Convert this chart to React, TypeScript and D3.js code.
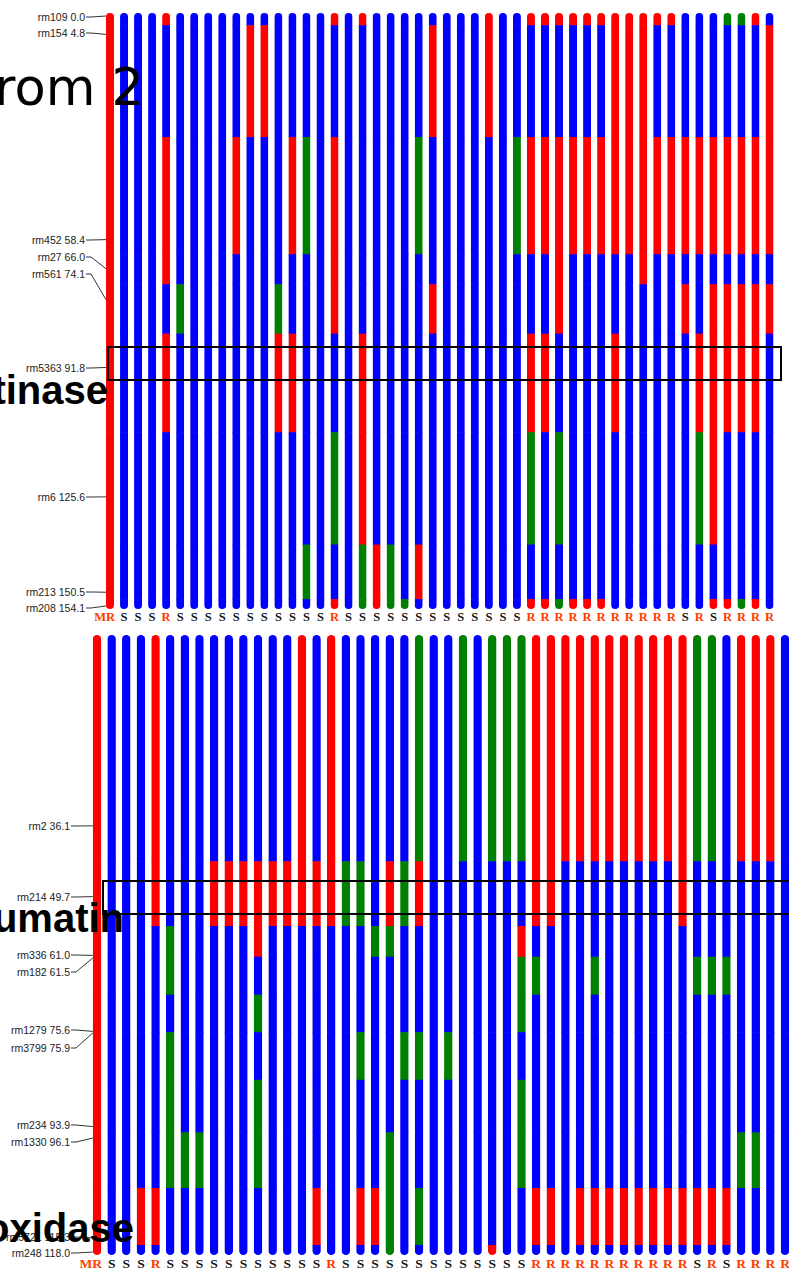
import React from 'react';
import * as d3 from 'd3';

// phenotype of each line (same order in both panels)
const phenotypes = [
  'MR', 'S', 'S', 'S', 'R', 'S', 'S', 'S', 'S', 'S', 'S', 'S', 'S', 'S', 'S', 'S',
  'R', 'S', 'S', 'S', 'S', 'S', 'S', 'S', 'S', 'S', 'S', 'S', 'S', 'S', 'R', 'R',
  'R', 'R', 'R', 'R', 'R', 'R', 'R', 'R', 'R', 'S', 'R', 'S', 'R', 'R', 'R', 'R',
];

// upper panel (chrom 2): markers, cM positions, genotypes per line
// R = resistant parent (red), B = susceptible parent (blue), H = heterozygous (green)
const topMarkers = ['rm109', 'rm154', 'rm452', 'rm27', 'rm561', 'rm5363', 'rm6', 'rm213', 'rm208'];
const topPos = [0.0, 4.8, 58.4, 66.0, 74.1, 91.8, 125.6, 150.5, 154.1];
const topGeno = [
  'RRRRRRRRR', 'BBBBBBBBB', 'BBBBBBBBB', 'BBBBBBBBB', 'RBRRBRBBB', 'BBBBHBBBB',
  'BBBBBBBBB', 'BBBBBBBBB', 'BBBBBBBBB', 'BBRBBBBBB', 'BRBBBBBBB', 'BRBBBBBBB',
  'BBBBHRBBB', 'BBRBBRBBB', 'BBHBBBBHB', 'BBBBBBBBB', 'RBRRRBHBR', 'BBBBBBBBB',
  'RBBBBRRHH', 'BBBBBBBRR', 'BBBBBBBHH', 'BBBBBBBBH', 'BBHBBBBRB', 'BRBBRBBBB',
  'BBBBBBBBB', 'BBBBBBBBB', 'BBBBBBBBB', 'RRBBBBBBB', 'BBBBBBBBB', 'BBHBBBBBB',
  'RBRBBRHBR', 'RBRBBRBBR', 'RBRRRBHBH', 'RBRBBBBBR', 'RBRBBBBBR', 'RBRBBBBBR',
  'RRRBBRBBB', 'RRRBBBBBB', 'RRRRBBBBB', 'RBRBBBBBB', 'RBRBBBBBB', 'BBRBRBBBB',
  'BBRBBRHBB', 'BBRBRRRBR', 'HBRBRRBBR', 'HBRBRRBBH', 'RBRBRRBBR', 'BRRBRBBBB',
];

// lower panel
const botMarkers = ['rm2', 'rm214', 'rm336', 'rm182', 'rm1279', 'rm3799', 'rm234', 'rm1330', 'rm5721', 'rm248'];
const botPos = [36.1, 49.7, 61.0, 61.5, 75.6, 75.9, 93.9, 96.1, 115.3, 118.0];
const botGeno = [
  'RRRRRRRRRR', 'BBBBBBBBBB', 'BBBBBBBBBB', 'BBBBBBBBRB', 'RRBBBBBBRB', 'BBHHBHHHBB',
  'BBBBBBBHBB', 'BBBBBBBHBB', 'BRBBBBBBBB', 'BRBBBBBBBB', 'BRBBBBBBBB', 'BRRBHBHHBB',
  'BRBBBBBBBB', 'BRBBBBBBBB', 'RRBBBBBBBB', 'BRBBBBBBRB', 'RRBBBBBBBB', 'BHBBBBBBBB',
  'BHBBBHBBRB', 'BBHBBBBBRB', 'BRHBBBBHHH', 'BHBBBHBBBB', 'HRBBBHBBHB', 'BBBBBBBBBB',
  'BBBBBHBBBB', 'HBBBBBBBBB', 'BBBBBBBBBB', 'HBBBBBBBBR', 'HBBBBBBBBB', 'HBRHHBHHBB',
  'RRBHBBBBRB', 'RRBBBBBBRB', 'RBBBBBBBBB', 'RBBBBBBBRB', 'RBBHBBBBRB', 'RBBBBBBBRB',
  'RBBBBBBBRB', 'RBBBBBBBRB', 'RBBBBBBBRB', 'RBBBBBBBRB', 'RRBBBBBBRB', 'HBBHBBBBRB',
  'HBBHBBBBRB', 'BBBHBBBBRB', 'RBBBBBBHBB', 'RBBBBBBHBB', 'RBBBBBBBBB', 'BBBBBBBBBB',
];

const W = 789;
const H = 1282;
const genoColor: Record<string, string> = { R: '#ff0000', B: '#0000ff', H: '#008000' };

type PanelProps = {
  id: string;
  markers: string[];
  pos: number[];
  geno: string[];
  start: number;
  xRange: [number, number];
  yRange: [number, number];
  barW: number;
  labelRight: number;
  labelYs: number[];
  phenoY: number;
  phenoSize: number;
};

function Panel(p: PanelProps) {
  const end = p.pos[p.pos.length - 1];
  const y = d3.scaleLinear().domain([p.start, end]).range(p.yRange);
  const x = d3.scaleLinear().domain([0, p.geno.length - 1]).range(p.xRange);
  const bounds = [p.start];
  for (let i = 0; i < p.pos.length - 1; i++) bounds.push((p.pos[i] + p.pos[i + 1]) / 2);
  bounds.push(end);
  const pad = 3;
  const barLeft = x(0) - p.barW / 2;

  return (
    <g>
      <defs>
        {p.geno.map((_, j) => (
          <clipPath id={`${p.id}-c${j}`} key={j}>
            <rect
              x={x(j) - p.barW / 2}
              y={y(p.start) - pad}
              width={p.barW}
              height={y(end) - y(p.start) + pad * 2}
              rx={p.barW / 2}
            />
          </clipPath>
        ))}
      </defs>
      {p.geno.map((g, j) => (
        <g key={j} clipPath={`url(#${p.id}-c${j})`}>
          {g.split('').map((c, i) => {
            const y0 = i === 0 ? y(bounds[0]) - pad : y(bounds[i]);
            const y1 = i === g.length - 1 ? y(bounds[i + 1]) + pad : y(bounds[i + 1]) + 0.6;
            return (
              <rect key={i} x={x(j) - p.barW / 2} y={y0} width={p.barW} height={y1 - y0} fill={genoColor[c]} />
            );
          })}
        </g>
      ))}
      {p.markers.map((m, i) => {
        const ly = p.labelYs[i];
        const my = y(p.pos[i]);
        return (
          <g key={m}>
            <text
              x={p.labelRight}
              y={ly}
              dy="0.35em"
              textAnchor="end"
              fontFamily="Liberation Sans, Arial, sans-serif"
              fontSize={10.5}
              fill="#222"
            >
              {`${m} ${p.pos[i].toFixed(1)}`}
            </text>
            <path
              d={`M${p.labelRight + 1},${ly}H${p.labelRight + 6}L${barLeft},${my}`}
              fill="none"
              stroke="#333"
              strokeWidth={1}
            />
          </g>
        );
      })}
      {phenotypes.map((ph, j) => (
        <text
          key={j}
          x={j === 0 ? x(j) + 5 : x(j)}
          y={p.phenoY}
          textAnchor={j === 0 ? 'end' : 'middle'}
          fontFamily="Liberation Serif, Times New Roman, serif"
          fontWeight="bold"
          fontSize={p.phenoSize}
          fill={ph === 'S' ? '#111' : '#ff3c00'}
        >
          {ph}
        </text>
      ))}
    </g>
  );
}

export default function App() {
  const bigFont = 'Liberation Sans, Arial, sans-serif';
  return (
    <svg
      width={W}
      height={H}
      style={{ position: 'absolute', left: 0, top: 0, background: '#fff' }}
    >
      <rect width={W} height={H} fill="#fff" />
      <Panel
        id="top"
        markers={topMarkers}
        pos={topPos}
        geno={topGeno}
        start={0}
        xRange={[110, 769.5]}
        yRange={[16, 606]}
        barW={8}
        labelRight={85}
        labelYs={[17, 33, 240, 257, 274, 368, 497, 592, 608]}
        phenoY={621}
        phenoSize={12.5}
      />
      <Panel
        id="bot"
        markers={botMarkers}
        pos={botPos}
        geno={botGeno}
        start={0}
        xRange={[97, 785]}
        yRange={[638, 1252]}
        barW={8.5}
        labelRight={70}
        labelYs={[826, 897, 955, 972, 1030, 1048, 1125, 1142, 1237, 1253]}
        phenoY={1268}
        phenoSize={13.5}
      />
      {/* highlighted regions */}
      <rect x={108} y={347} width={673} height={33} fill="none" stroke="#000" strokeWidth={2} />
      <rect x={103} y={881} width={700} height={33} fill="none" stroke="#000" strokeWidth={2} />
      {/* overlaid annotations */}
      <text x={144} y={105} textAnchor="end" fontFamily="DejaVu Sans, sans-serif" fontSize={51} fill="#000">
        Chrom 2
      </text>
      <text x={108} y={404} textAnchor="end" fontFamily={bigFont} fontWeight="bold" fontSize={40} fill="#000">
        Chitinase
      </text>
      <text x={124} y={932} textAnchor="end" fontFamily={bigFont} fontWeight="bold" fontSize={40} fill="#000">
        Thaumatin
      </text>
      <text x={134} y={1242} textAnchor="end" fontFamily={bigFont} fontWeight="bold" fontSize={40} fill="#000">
        Peroxidase
      </text>
    </svg>
  );
}
